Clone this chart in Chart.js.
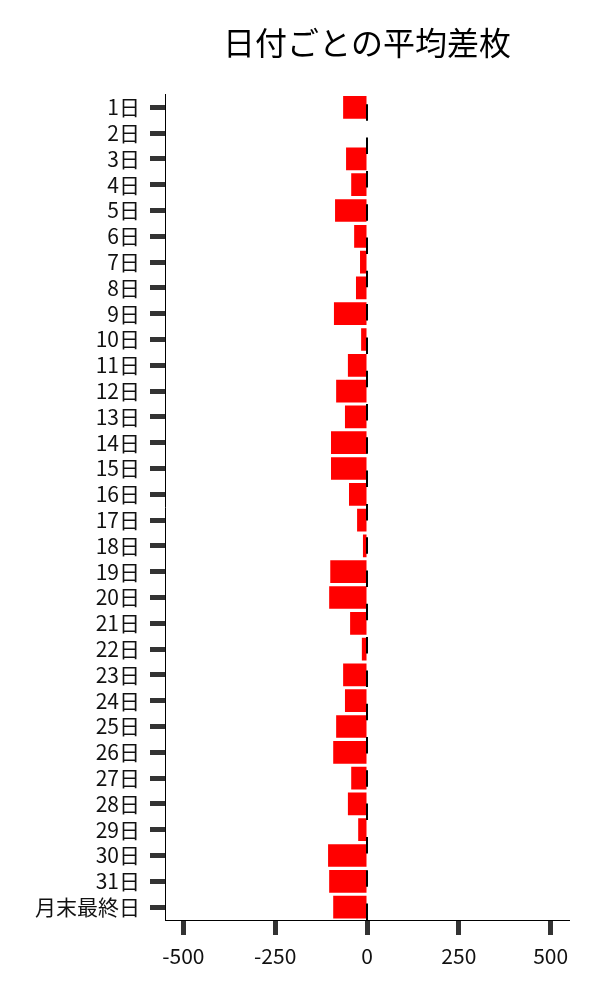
<!DOCTYPE html>
<html>
<head>
<meta charset="utf-8">
<script src="https://cdn.jsdelivr.net/npm/chart.js@4"></script>
<style>
    html, body { margin: 0; padding: 0; background: #fff; }
    #chart { display: block; }
</style>
</head>
<body>
<canvas id="chart" width="600" height="1000"></canvas>
<script>
// Data
const dayLabels = ['1日', '2日', '3日', '4日', '5日', '6日', '7日', '8日', '9日', '10日',
    '11日', '12日', '13日', '14日', '15日', '16日', '17日', '18日', '19日', '20日',
    '21日', '22日', '23日', '24日', '25日', '26日', '27日', '28日', '29日', '30日',
    '31日', '月末最終日'];
const avgDiff = [-65, 0, -57, -43, -87, -35, -19, -30, -90, -16,
    -52, -84, -60, -98, -98, -49, -27, -11, -100, -103,
    -46, -14, -65, -60, -84, -92, -43, -52, -24, -106,
    -103, -92];
const xTicks = [-500, -250, 0, 250, 500];
const xRange = [-550, 550];

const fontFamily = '"Noto Sans CJK JP", "Noto Sans", sans-serif';

// dashed zero line over the bars
const zeroLine = {
    id: 'zeroLine',
    afterDatasetsDraw(chart) {
        const { ctx, chartArea, scales: { x } } = chart;
        const px = x.getPixelForValue(0);
        ctx.save();
        ctx.setLineDash([16.5, 16.8]);
        ctx.lineWidth = 2;
        ctx.strokeStyle = '#000';
        ctx.beginPath();
        ctx.moveTo(px, chartArea.bottom);
        ctx.lineTo(px, chartArea.top);
        ctx.stroke();
        ctx.restore();
    }
};

new Chart(document.getElementById('chart').getContext('2d'), {
    type: 'bar',
    data: {
        labels: dayLabels,
        datasets: [{
            data: avgDiff,
            backgroundColor: '#ff0000',
            borderWidth: 0,
            barPercentage: 0.88,
            categoryPercentage: 1.0
        }]
    },
    options: {
        indexAxis: 'y',
        responsive: false,
        animation: false,
        devicePixelRatio: 1,
        layout: { padding: { top: 0, left: 0, right: 31, bottom: 0 } },
        plugins: {
            legend: { display: false },
            tooltip: { enabled: false },
            title: {
                display: true,
                text: '日付ごとの平均差枚',
                fullSize: false,
                color: '#000',
                font: { family: fontFamily, size: 32, weight: 'normal', lineHeight: 1.2 },
                padding: { top: 24, bottom: 32 }
            }
        },
        scales: {
            x: {
                type: 'linear',
                min: xRange[0],
                max: xRange[1],
                afterBuildTicks: (axis) => { axis.ticks = xTicks.map(v => ({ value: v })); },
                afterFit: (axis) => { axis.height = 80; },
                grid: { drawOnChartArea: false, tickLength: 15, tickWidth: 5, tickColor: '#333' },
                border: { color: '#000', width: 1 },
                ticks: {
                    color: '#111',
                    padding: 8,
                    maxRotation: 0,
                    font: { family: fontFamily, size: 21 }
                }
            },
            y: {
                type: 'category',
                offset: true,
                afterFit: (axis) => { axis.width = 165; },
                grid: { offset: false, drawOnChartArea: false, tickLength: 15, tickWidth: 5, tickColor: '#333' },
                border: { color: '#000', width: 1 },
                ticks: {
                    color: '#111',
                    padding: 10,
                    autoSkip: false,
                    font: { family: fontFamily, size: 21 }
                }
            }
        }
    },
    plugins: [zeroLine]
});
</script>
</body>
</html>
